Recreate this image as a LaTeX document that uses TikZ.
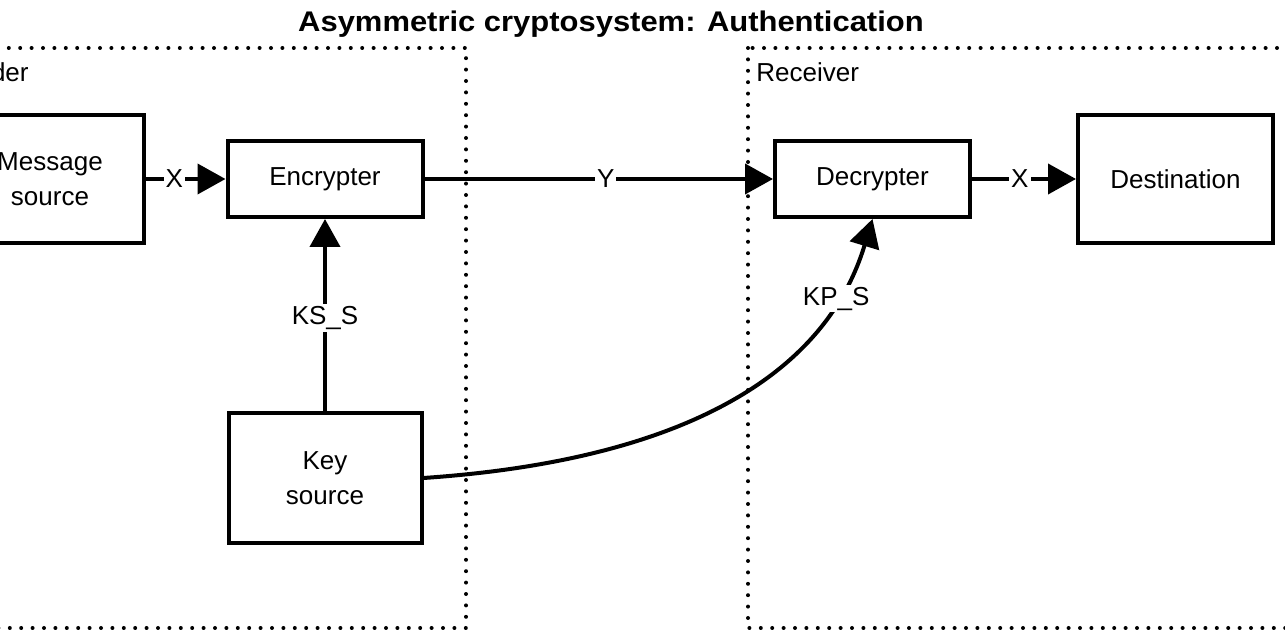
\documentclass[tikz,border=0pt]{standalone}
\usepackage{fontspec}
\setmainfont{Liberation Sans}
\usetikzlibrary{arrows.meta,calc}
\begin{document}
\begin{tikzpicture}[x=0.5pt,y=-0.5pt,
  box/.style={draw, line width=2pt, minimum width=97.5pt, minimum height=38pt, inner sep=0pt,
    font=\fontsize{13}{17.5}\selectfont, align=center},
  bigbox/.style={box, minimum height=64pt},
  conn/.style={line width=2pt, -{Triangle[length=14pt,width=15pt]}},
  lbl/.style={fill=white, inner sep=1pt, font=\fontsize{13}{15}\selectfont},
  zone/.style={line width=2pt, dash pattern=on 0pt off 5.7pt, line cap=round},
  zonelabel/.style={inner sep=0pt, font=\fontsize{13}{15}\selectfont}]
\useasboundingbox (0,0) rectangle (1285,635);
\clip (0,0) rectangle (1285,635);
\fill[white] (0,0) rectangle (1285,635);

\node[anchor=base, font=\fontsize{14.2}{16}\selectfont\bfseries] (title) at (611,32)
  {\scalebox{1.09}[1]{Asymmetric cryptosystem: Authentication}};

\draw[zone] (-60,48) rectangle (466,628);
\draw[zone] (748,48) rectangle (1287.5,628);
\node[zonelabel, anchor=base east] (sender) at (29,82) {Sender};
\node[zonelabel, anchor=base west] (receiver) at (756,82) {Receiver};

\node[bigbox, text width=97.5pt] (msg) at (46,179) {\hspace*{4pt}Message\\\hspace*{4pt}source};
\node[box] (enc) at (325,179) {Encrypter};
\node[box] (dec) at (872.5,179) {Decrypter};
\node[bigbox] (dst) at (1175.5,179) {Destination};
\node[bigbox, minimum height=65pt, minimum width=96.5pt] (key) at (325,478) {Key\\source};

\draw[conn] (msg.east) -- node[lbl, pos=0.36] (x1) {X} (enc.west);
\draw[conn] (enc.east) -- node[lbl, pos=0.52] (y1) {Y} (dec.west);
\draw[conn] (dec.east) -- node[lbl, pos=0.46] (x2) {X} (dst.west);
\draw[conn] (key.north) -- node[lbl, pos=0.485] (ks) {KS\_S} (enc.south);
\draw[conn] (key.east) .. controls ($(key.east)+(249,-17)$) and ($(dec.south)+(-49,162)$) .. (dec.south)
  node[lbl, pos=0.82] (kp) {KP\_S};
\end{tikzpicture}
\end{document}
